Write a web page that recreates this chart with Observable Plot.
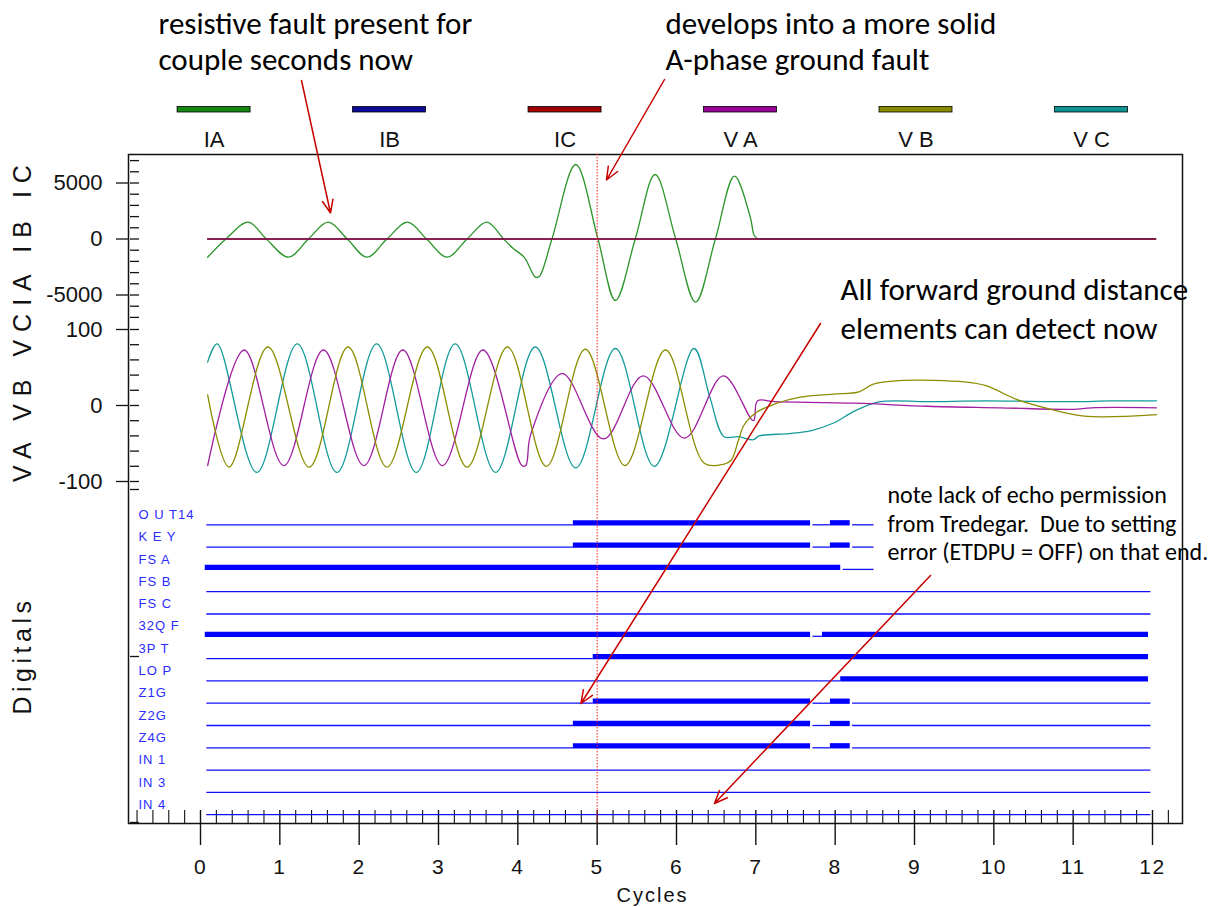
<!DOCTYPE html>
<html>
<head>
<meta charset="utf-8">
<script src="https://cdn.jsdelivr.net/npm/d3@7"></script>
<script src="https://cdn.jsdelivr.net/npm/@observablehq/plot@0.6"></script>
<style>
  html, body { margin: 0; padding: 0; background: #fff; }
  #chart { width: 1231px; height: 907px; }
</style>
</head>
<body>
<div id="chart"></div>
<script>
// ---------------- DATA ----------------
// Currents [cycle, amps]
const IA = [[0.09,-1625],[0.32,0],[0.60,1500],[0.83,0],[1.11,-1625],[1.36,0],[1.61,1500],[1.85,0],[2.10,-1625],[2.35,0],[2.61,1500],[2.85,0],[3.11,-1625],[3.36,0],[3.61,1500],[3.82,0],[3.95,-900],[4.08,-1625],[4.22,-3400],[4.27,-3350],[4.43,0],[4.73,6650],[5.01,0],[5.23,-5490],[5.48,0],[5.73,5760],[5.99,0],[6.24,-5640],[6.49,0],[6.73,5610],[6.93,1950],[6.98,310],[7.03,0],[7.08,0],[12.00,0],[12.04,0]];
const IB = [[0.09,0],[12.04,0]];
const IC = [[0.09,0],[12.04,0]];
// Voltages [cycle, volts]
const VA = [[0.09,-79],[0.55,73],[1.05,-79],[1.55,73],[2.06,-79],[2.55,73],[3.05,-79],[3.56,73],[4.05,-79],[4.10,-79],[4.16,-39],[4.56,42],[5.08,-44],[5.58,39],[6.10,-43],[6.59,39],[6.97,-20],[7.02,6],[7.24,5],[8.25,3],[9.17,-1],[10.08,-3],[11.0,-5],[11.23,-3],[12.05,-3]];
const VB = [[0.09,14],[0.36,-81],[0.85,77],[1.37,-81],[1.86,77],[2.35,-81],[2.86,77],[3.36,-81],[3.87,77],[4.36,-80],[4.85,74],[5.35,-79],[5.86,73],[6.35,-76],[6.60,-77],[6.69,-72],[6.78,-46],[6.85,-26],[7.01,-9],[7.24,2],[7.56,11],[7.98,15],[8.30,18],[8.48,28],[8.85,33],[9.63,31],[9.90,26],[10.31,7],[10.68,-4],[11.14,-14],[12.05,-12]];
const VC = [[0.09,57],[0.21,81],[0.71,-88],[1.22,81],[1.72,-88],[2.22,81],[2.72,-88],[3.21,81],[3.72,-88],[4.22,77],[4.73,-82],[5.23,75],[5.72,-80],[6.22,75],[6.42,11],[6.60,-41],[6.78,-41],[6.97,-45],[7.04,-40],[7.42,-37],[7.70,-33],[7.98,-23],[8.25,-7],[8.57,5],[9.17,5],[9.90,6],[11.0,5],[11.46,6],[12.05,6]];

// Digital channels: [start cycle, end cycle, state (1 = asserted)]
const digNames = ["O U T14","K E Y","FS A","FS B","FS C","32Q F","3P T","LO P","Z1G","Z2G","Z4G","IN 1","IN 3","IN 4"];
const dOUT14 = [[0.08,4.70,0],[4.70,7.69,1],[7.72,7.94,0],[7.94,8.19,1],[8.22,8.49,0]];
const dKEY   = [[0.08,4.70,0],[4.70,7.69,1],[7.72,7.94,0],[7.94,8.19,1],[8.22,8.49,0]];
const dFSA   = [[0.06,8.07,1],[8.10,8.49,0]];
const dFSB   = [[0.08,11.98,0]];
const dFSC   = [[0.08,11.98,0]];
const d32QF  = [[0.06,7.69,1],[7.72,7.84,0],[7.84,11.95,1]];
const d3PT   = [[0.08,4.95,0],[4.95,11.95,1]];
const dLOP   = [[0.08,8.07,0],[8.07,11.95,1]];
const dZ1G   = [[0.08,4.95,0],[4.95,7.69,1],[7.72,7.94,0],[7.94,8.19,1],[8.22,11.98,0]];
const dZ2G   = [[0.08,4.70,0],[4.70,7.69,1],[7.72,7.94,0],[7.94,8.19,1],[8.22,11.98,0]];
const dZ4G   = [[0.08,4.70,0],[4.70,7.69,1],[7.72,7.94,0],[7.94,8.19,1],[8.22,11.98,0]];
const dIN1   = [[0.08,11.98,0]];
const dIN3   = [[0.08,11.98,0]];
const dIN4   = [[0.08,11.98,0]];
const digChannels = [dOUT14,dKEY,dFSA,dFSB,dFSC,d32QF,d3PT,dLOP,dZ1G,dZ2G,dZ4G,dIN1,dIN3,dIN4];

// Tick values / labels
const xTicks = [0,1,2,3,4,5,6,7,8,9,10,11,12];
const curTicks = [5000, 0, -5000];
const voltTicks = [100, 0, -100];
const faultCycle = [5];

// Legend & text
const legendNames = ["IA","IB","IC","V A","V B","V C"];
const legendKeys = ["IA","IB","IC","VA","VB","VC"];
const yTitle1 = "VA VB VCIA IB IC";
const yTitle2 = "Digitals";
const xTitle = "Cycles";
const annBig = ["resistive fault present for\ncouple seconds now","develops into a more solid\nA-phase ground fault"];
const annMid = ["All forward ground distance\nelements can detect now"];
const annSmall = ["note lack of echo permission\nfrom Tredegar.  Due to setting\nerror (ETDPU = OFF) on that end."];

// ---------------- LAYOUT & STYLE ----------------
const W = 1231, H = 907;
const F = {left:128, right:1182, top:154, bottom:823, x0:200, ppc:952/12};
const cx = px => (px - F.x0) / F.ppc;     // layout pixel -> cycles
const ty = py => py - F.top;               // layout pixel -> track units
const yMax = F.bottom - F.top;
const T = {curZero: 84.5, curPer: 56/5000, voltZero: 251, voltPer: 0.76, dig0: 370.3, digStep: 22.3};
const yCur = v => T.curZero - v * T.curPer;
const yVolt = v => T.voltZero - v * T.voltPer;
const yDig = i => T.dig0 + i * T.digStep;

const C = {IA:"#2a962a", IB:"#1a1aa0", IC:"#9a1030", VA:"#a01ea0", VB:"#8c8c00", VC:"#149a9a"};
const CL = {IA:"#138813", IB:"#0c0c98", IC:"#a00000", VA:"#960096", VB:"#8a8a00", VC:"#0f9494"};
const FONT = "'Liberation Sans Narrow','Liberation Sans',Arial,sans-serif";
const AFONT = "Carlito,Lato,'Open Sans',sans-serif";
const ink = "#111";

const legX0 = 0.171, legStep = 2.212, legHalf = 0.46;

const arrows = [
  {x1: cx(301), y1: ty(80),  x2: cx(330),   y2: ty(212.5)},
  {x1: cx(664), y1: ty(79),  x2: cx(606),   y2: ty(179.5)},
  {x1: cx(820), y1: ty(323), x2: cx(580.5), y2: ty(703)},
  {x1: cx(930), y1: ty(575), x2: cx(714),   y2: ty(803)}
];

// derived tables
const segs = digChannels.flatMap((ch, i) => ch.map(([a, b, s]) => ({i, a, b, s})));
const thin = segs.filter(d => !d.s), thick = segs.filter(d => d.s);
const curMinor = d3.range(-7000, 7001, 1000);
const voltMinor = d3.range(-100, 101, 20);
const xMinor = d3.range(-4, 62).map(k => k * 0.2).filter(v => Math.abs(v - Math.round(v)) > 1e-6);
const line = (data, key, yf) => Plot.line(data, {x: d => d[0], y: d => yf(d[1]), stroke: C[key], strokeWidth: 1.3, curve: "catmull-rom"});

const chart = Plot.plot({
  width: W, height: H,
  marginLeft: F.left, marginRight: W - F.right, marginTop: F.top, marginBottom: H - F.bottom,
  x: {domain: [cx(F.left), cx(F.right)], axis: null},
  y: {domain: [0, yMax], reverse: true, axis: null},
  style: {background: "#fff", overflow: "visible", fontFamily: FONT},
  marks: [
    // legend
    Plot.rect(legendKeys, {x1: (d, i) => legX0 + i*legStep - legHalf, x2: (d, i) => legX0 + i*legStep + legHalf,
      y1: ty(106.5), y2: ty(112), fill: d => CL[d], stroke: "#000", strokeWidth: 0.8}),
    Plot.text(legendNames, {x: (d, i) => legX0 + i*legStep, y: ty(139), text: d => d, fontSize: 22, fill: ink}),
    // frame and ticks
    Plot.frame({stroke: ink, strokeWidth: 1.5}),
    Plot.ruleX(xTicks, {x: d => d, y1: yMax - 13, y2: yMax + 22, stroke: ink, strokeWidth: 1.4}),
    Plot.ruleX(xMinor, {x: d => d, y1: yMax - 13, y2: yMax, stroke: ink, strokeWidth: 1.1}),
    Plot.text(xTicks, {x: d => d, y: ty(867), text: d => String(d), fontSize: 21, fill: ink, ariaDescription: "xticklabels"}),
    Plot.ruleY(curTicks, {y: yCur, x1: cx(116), x2: cx(F.left), stroke: ink, strokeWidth: 1.3}),
    Plot.ruleY(curMinor, {y: yCur, x1: cx(130), x2: cx(139), stroke: ink, strokeWidth: 1.3}),
    Plot.ruleY(voltTicks, {y: yVolt, x1: cx(116), x2: cx(F.left), stroke: ink, strokeWidth: 1.3}),
    Plot.ruleY(voltMinor, {y: yVolt, x1: cx(130), x2: cx(139), stroke: ink, strokeWidth: 1.3}),
    Plot.ruleY([ty(489), ty(656), ty(822)], {y: d => d, x1: cx(130), x2: cx(139), stroke: ink, strokeWidth: 1.3}),
    Plot.text(curTicks, {x: cx(102), y: yCur, text: d => String(d), textAnchor: "end", fontSize: 22, fill: ink, ariaDescription: "yticklabels"}),
    Plot.text(voltTicks, {x: cx(102), y: yVolt, text: d => String(d), textAnchor: "end", fontSize: 22, fill: ink, ariaDescription: "yticklabels"}),
    // axis titles
    Plot.text([yTitle1], {x: cx(22), y: ty(319), text: d => d, rotate: -90, fontSize: 25, fill: ink, ariaDescription: "ytitle1"}),
    Plot.text([yTitle2], {x: cx(22), y: ty(655), text: d => d, rotate: -90, fontSize: 25, fill: ink, ariaDescription: "ytitle2"}),
    Plot.text([xTitle], {x: cx(652), y: ty(895), text: d => d, fontSize: 20, fill: ink, ariaDescription: "xtitle"}),
    // waveforms
    line(IA, "IA", yCur), line(IB, "IB", yCur), line(IC, "IC", yCur),
    line(VC, "VC", yVolt), line(VA, "VA", yVolt), line(VB, "VB", yVolt),
    // digitals
    Plot.ruleY(thin, {y: d => yDig(d.i), x1: "a", x2: "b", stroke: "#1010ff", strokeWidth: 1.3}),
    Plot.ruleY(thick, {y: d => yDig(d.i), x1: "a", x2: "b", dy: -2, stroke: "#0000ff", strokeWidth: 5.3}),
    Plot.text(digNames, {x: cx(138), y: (d, i) => yDig(i), dy: -10, text: d => d, textAnchor: "start", fontSize: 13, fill: "#2b2bff", ariaDescription: "diglabels"}),
    // fault marker
    Plot.ruleX(faultCycle, {x: d => d, y1: 0, y2: yMax, stroke: "#ff1a1a", strokeWidth: 1, strokeDasharray: "1.5,1.5"}),
    // annotations
    Plot.arrow(arrows, {x1: "x1", y1: "y1", x2: "x2", y2: "y2", stroke: "#c80000", strokeWidth: 1.5, headLength: 14, headAngle: 45}),
    Plot.text(annBig, {x: (d, i) => i ? cx(665) : cx(158), y: ty(40), text: d => d, textAnchor: "start", lineHeight: 1.16, fontSize: 31, fontFamily: AFONT, fill: "#000"}),
    Plot.text(annMid, {x: cx(840), y: ty(306.5), text: d => d, textAnchor: "start", lineHeight: 1.26, fontSize: 31, fontFamily: AFONT, fill: "#000"}),
    Plot.text(annSmall, {x: cx(887), y: ty(522), text: d => d, textAnchor: "start", lineHeight: 1.17, fontSize: 24, fontFamily: AFONT, fill: "#000", ariaDescription: "note"})
  ]
});
document.getElementById("chart").appendChild(chart);
const s = d3.select(chart);
s.selectAll("g[aria-description='ytitle1'] text").style("letter-spacing", "8px");
s.selectAll("g[aria-description='ytitle2'] text").style("letter-spacing", "4.5px");
s.selectAll("g[aria-description='xtitle'] text").style("letter-spacing", "2px");
s.selectAll("g[aria-description='xticklabels'] text").style("letter-spacing", "1.5px");
s.selectAll("g[aria-description='diglabels'] text").style("letter-spacing", "1px");
s.selectAll("g[aria-description='note'] text, g[aria-description='note'] tspan").style("white-space", "pre");
</script>
</body>
</html>
